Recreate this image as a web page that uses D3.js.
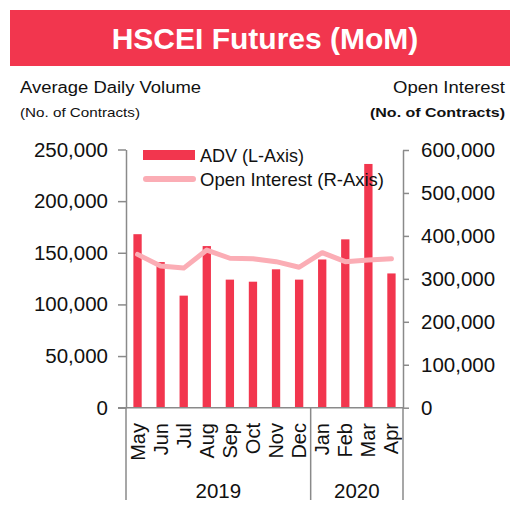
<!DOCTYPE html>
<html>
<head>
<meta charset="utf-8">
<script src="https://cdn.jsdelivr.net/npm/d3@7"></script>
<style>
  body { margin: 0; background: #fff; }
  svg { display: block; font-family: "Liberation Sans", Arial, sans-serif; }
</style>
</head>
<body>
<svg id="chart" width="510" height="505"></svg>
<script>
// data
let months = ["May","Jun","Jul","Aug","Sep","Oct","Nov","Dec","Jan","Feb","Mar","Apr"];
let years = ["2019","2020"];
let monthYear = ["2019","2019","2019","2019","2019","2019","2019","2019","2020","2020","2020","2020"];
let adv = [168000,141000,108500,156500,124000,122000,134000,124000,143500,163000,236000,130000];
let openInterest = [357000,330000,325000,367000,348000,347000,340000,327000,361000,340000,344000,347000];
let leftTicks = [0,50000,100000,150000,200000,250000];
let rightTicks = [0,100000,200000,300000,400000,500000,600000];

let red = "#f2364e",
    pink = "#fbadb5",
    grey = "#8a8a8a";

let svg = d3.select("#chart");

// title banner
svg.append("rect")
    .attr("x",10).attr("y",10)
    .attr("width",500).attr("height",56)
    .attr("fill",red)
svg.append("text")
    .attr("x",265).attr("y",49)
    .attr("text-anchor","middle")
    .attr("fill","#fff")
    .attr("font-weight","bold")
    .attr("font-size",30)
    .text("HSCEI Futures (MoM)")

// axis titles
function label(x, y, txt, size, anchor, len, bold) {
    svg.append("text")
        .attr("x",x).attr("y",y)
        .attr("text-anchor",anchor)
        .attr("font-size",size)
        .attr("font-weight",bold ? "bold" : "normal")
        .attr("textLength",len)
        .attr("lengthAdjust","spacingAndGlyphs")
        .attr("fill","#111")
        .text(txt)
}
label(20, 93, "Average Daily Volume", 16, "start", 181)
label(20, 117, "(No. of Contracts)", 13.5, "start", 120)
label(505, 93, "Open Interest", 16, "end", 112)
label(505, 117, "(No. of Contracts)", 13.5, "end", 135, true)

// scales
let x = d3.scaleBand().domain(d3.range(months.length))
    .range([126, 403]).paddingInner(0.64).paddingOuter(0.32);
let yL = d3.scaleLinear().domain([0,250000]).range([407.7,149.5]);
let yR = d3.scaleLinear().domain([0,600000]).range([407.7,150]);

// bars
svg.append("g").selectAll("rect")
    .data(adv)
    .join("rect")
    .attr("x",(d,i) => x(i))
    .attr("width",x.bandwidth())
    .attr("y",d => yL(d))
    .attr("height",d => yL(0) - yL(d))
    .attr("fill",red)

// open interest line
let line = d3.line()
    .x((d,i) => x(i) + x.bandwidth()/2)
    .y(d => yR(d));
svg.append("path")
    .datum(openInterest)
    .attr("d",line)
    .attr("fill","none")
    .attr("stroke",pink)
    .attr("stroke-width",5)
    .attr("stroke-linejoin","round")
    .attr("stroke-linecap","round")

// axes
let fmt = d3.format(",");
let gL = svg.append("g")
    .attr("transform","translate(126,0)")
    .call(d3.axisLeft(yL).tickValues(leftTicks).tickFormat(fmt).tickSize(8).tickSizeOuter(0).tickPadding(10));
let gR = svg.append("g")
    .attr("transform","translate(403,0)")
    .call(d3.axisRight(yR).tickValues(rightTicks).tickFormat(fmt).tickSize(6).tickSizeOuter(0).tickPadding(12));
[gL, gR].forEach(g => {
    g.selectAll("path, line").attr("stroke",grey).attr("stroke-width",1.5)
    g.selectAll("text").attr("font-size",20.5).attr("fill","#111")
        .attr("font-family","'Liberation Sans', Arial, sans-serif")
})

// category axis
svg.append("line")
    .attr("x1",118).attr("x2",403)
    .attr("y1",yL(0)).attr("y2",yL(0))
    .attr("stroke",grey).attr("stroke-width",1.5)

svg.append("g").selectAll("text")
    .data(months)
    .join("text")
    .attr("transform",(d,i) => "translate(" + (x(i) + x.bandwidth()/2) + ",423) rotate(-90)")
    .attr("text-anchor","end")
    .attr("dy","0.35em")
    .attr("font-size",20)
    .attr("fill","#111")
    .text(d => d)

// year groups
let groups = years.map(yr => {
    let idx = d3.range(months.length).filter(i => monthYear[i] == yr);
    let step = x.step();
    return {yr: yr,
        x0: x(idx[0]) - x.paddingInner()*step/2,
        x1: x(idx[idx.length-1]) + x.bandwidth() + x.paddingInner()*step/2};
});
let seps = [126].concat(groups.map(g => g.x1));
seps[seps.length-1] = 403;
svg.append("g").selectAll("line")
    .data(seps)
    .join("line")
    .attr("x1",d => d).attr("x2",d => d)
    .attr("y1",yL(0)).attr("y2",500)
    .attr("stroke",grey).attr("stroke-width",1.5)

svg.append("g").selectAll("text")
    .data(groups)
    .join("text")
    .attr("x",(d,i) => ((i == 0 ? 126 : d.x0) + (i == groups.length-1 ? 403 : d.x1))/2)
    .attr("y",498)
    .attr("text-anchor","middle")
    .attr("font-size",20.5)
    .attr("fill","#111")
    .text(d => d.yr)

// legend
let legend = svg.append("g");
legend.append("rect")
    .attr("x",143).attr("y",150)
    .attr("width",52).attr("height",10)
    .attr("fill",red)
legend.append("line")
    .attr("x1",146).attr("x2",193)
    .attr("y1",179).attr("y2",179)
    .attr("stroke",pink).attr("stroke-width",6)
    .attr("stroke-linecap","round")
legend.append("text")
    .attr("x",200).attr("y",162)
    .attr("font-size",18).attr("fill","#111")
    .text("ADV (L-Axis)")
legend.append("text")
    .attr("x",200).attr("y",185.5)
    .attr("font-size",18.5).attr("fill","#111")
    .text("Open Interest (R-Axis)")
</script>
</body>
</html>
